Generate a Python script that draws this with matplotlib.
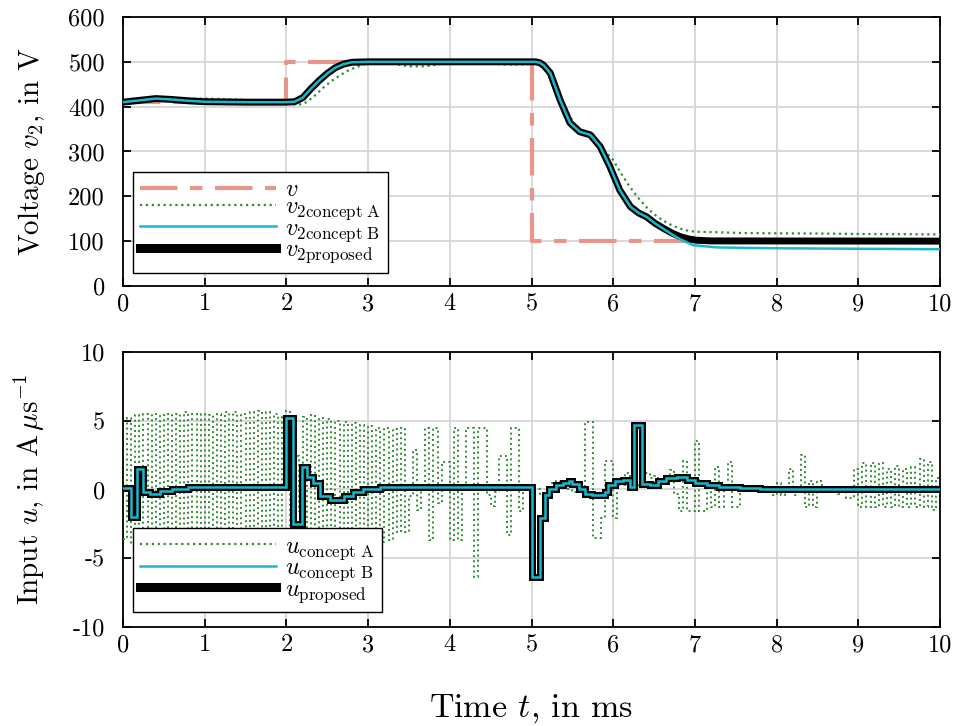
import numpy as np
import matplotlib
matplotlib.use("Agg")
import matplotlib.pyplot as plt
from matplotlib.lines import Line2D

plt.rcParams['font.family'] = ['cmr10', 'DejaVu Serif']
plt.rcParams['mathtext.fontset'] = 'cm'
plt.rcParams['axes.unicode_minus'] = False

# reference voltage (step changes)
t_ref = [0.0, 2.0, 5.0, 10.0]
v_ref = [410, 500, 100, 100]

# output voltage, proposed controller
t_prop = [0.0, 0.2, 0.4, 0.6, 0.8, 1.0, 1.5, 2.0, 2.1, 2.2, 2.3, 2.4, 2.5, 2.6, 2.7, 2.8, 3.0, 3.5,
          5.05, 5.1, 5.15, 5.23, 5.35, 5.47, 5.59, 5.72, 5.84, 5.96, 6.08, 6.21, 6.31, 6.41, 6.51,
          6.61, 6.72, 6.82, 6.92, 7.02, 7.2, 10.0]
v_prop = [410, 414, 418, 416, 413, 411, 410, 410, 411, 420, 440, 458, 474, 487, 495, 499, 500, 500,
          500, 498, 492, 475, 415, 364, 344, 337, 311, 266, 214, 177, 163, 154, 140,
          129, 118, 110, 105, 102, 100.5, 100]

# output voltage, concept B (same as proposed until it settles lower)
t_b = [0.0, 0.2, 0.4, 0.6, 0.8, 1.0, 1.5, 2.0, 2.1, 2.2, 2.3, 2.4, 2.5, 2.6, 2.7, 2.8, 3.0, 3.5,
       5.05, 5.1, 5.15, 5.23, 5.35, 5.47, 5.59, 5.72, 5.84, 5.96, 6.08, 6.21, 6.31, 6.41, 6.51,
       6.61, 6.72, 6.82, 6.98, 7.27, 7.6, 8.08, 9.0, 10.0]
v_b = [410, 414, 418, 416, 413, 411, 410, 410, 411, 420, 440, 458, 474, 487, 495, 499, 500, 500,
       500, 498, 492, 475, 415, 364, 344, 337, 311, 266, 214, 177, 163, 154, 140,
       128, 115, 104, 91, 86, 85, 84, 83, 82]

# output voltage, concept A
t_a = [0.0, 0.2, 0.4, 0.6, 0.8, 1.0, 1.2, 1.4, 1.6, 1.8, 2.0, 2.05, 2.15, 2.25, 2.35, 2.45, 2.55,
       2.65, 2.75, 2.85, 2.95, 3.1, 3.25, 3.4, 3.5, 3.7, 3.85, 4.0, 4.3, 4.5, 4.7, 4.9, 5.0, 5.1,
       5.2, 5.3, 5.4, 5.5, 5.6, 5.7, 5.8, 5.9, 6.0, 6.1, 6.2, 6.3, 6.4, 6.5, 6.6, 6.7, 6.8, 6.9,
       7.0, 7.25, 7.6, 8.0, 8.5, 9.0, 9.5, 10.0]
v_a = [410, 414, 417, 418, 418, 418, 417, 416, 414, 412, 410, 406, 404, 410, 425, 442, 457,
       469, 480, 488, 494, 498, 498, 493, 490, 490, 494, 498, 499, 496, 494, 494, 495, 497,
       482, 447, 405, 368, 344, 337, 322, 300, 281, 250, 222, 198, 177, 160, 147, 137, 129, 124,
       121, 120, 118, 117.5, 117, 116, 115.5, 115]

# input, concept A (sampled every 0.05 ms)
dt_a = 0.05
u_a = [-3.6, 5.2, -4.0, 5.4, -4.2, 5.5, -4.3, 5.5, -4.2, 5.4,
       -4.3, 5.5, -4.3, 5.5, -4.4, 5.6, -4.3, 5.5, -4.3, 5.5,
       -4.3, 5.4, -4.4, 5.5, -4.4, 5.6, -4.3, 5.6, -4.4, 5.5,
       -4.4, 5.6, -4.5, 5.7, -4.4, 5.6, -4.3, 5.5, -4.2, 5.3,
       5.7, -4.5, 2.4, -1.6, 5.3, -4.3, 5.4, -4.2, 5.2, -4.2,
       5.1, -4.0, 5.0, -4.0, 4.9, -4.0, 4.8, -3.9, 4.7, -3.9,
       4.6, -3.8, 4.5, -3.8, 4.5, -3.7, 4.4, -3.1, 4.5, -3.1,
       -0.5, 2.9, -1.5, 0.3, 4.5, -3.7, 4.5, -1.0, 2.0, 2.0,
       -3.7, 4.5, -3.7, 0.3, 4.5, 4.5, -6.4, 4.5, 4.5, -0.4,
       -1.2, -0.2, 2.4, 2.4, -3.3, 4.5, 4.5, -1.6, 0.0, 0.0,
       0.0, 0.0, -0.3, -0.4, 0.2, 0.5, 0.6, 0.5, 0.3, 0.0,
       -0.2, 0.0, 0.0, 4.9, 4.9, -3.5, -3.5, -2.1, 2.1, 2.1,
       -2.1, 0.3, 0.3, 1.2, 0.2, 0.2, 0.3, 1.0, 1.2, 0.8,
       1.0, 0.6, 0.5, 0.6, 1.4, -0.3, -1.6, 2.1, -1.6, -1.6,
       3.5, -1.6, -1.6, 0.2, -1.3, 1.6, -1.3, 0.2, 2.0, -1.3,
       -1.3, 0.0, 0.0, 0.0, 0.0, 0.1, 0.0, 0.0, 0.0, -0.4,
       0.5, -0.4, 0.0, 1.5, -0.4, 0.0, 2.5, -1.3, 0.6, -1.3,
       0.6, 0.0, 0.0, 0.0, 0.0, -0.3, 0.0, -0.6, -0.6, 1.5,
       -1.3, 1.9, -1.3, 1.9, -1.3, 1.9, -1.3, 1.5, -1.3, 1.7,
       -1.3, 1.5, -1.3, 1.6, -1.3, 2.2, -1.3, 2.0, -1.5, 0.8]

# input, proposed controller (piecewise constant)
t_u = [0.00, 0.10, 0.17, 0.25, 0.33, 0.45, 0.60, 0.80, 2.00, 2.08, 2.19, 2.25, 2.33, 2.41, 2.53,
       2.70, 2.82, 2.94, 3.15, 5.00, 5.10, 5.16, 5.22, 5.30, 5.38, 5.46, 5.50, 5.58, 5.66, 5.74,
       5.90, 5.94, 6.02, 6.12, 6.20, 6.25, 6.35, 6.45, 6.55, 6.65, 6.78, 6.90, 7.00, 7.15, 7.30,
       7.55, 7.80, 10.0]
u_prop = [0.1, -2.0, 1.5, -0.2, -0.3, -0.1, 0.0, 0.2, 5.2, -2.5, 1.6, 0.9, 0.5, -0.5, -0.8,
          -0.5, -0.2, 0.0, 0.2, -6.4, -2.1, -0.4, 0.0, 0.3, 0.5, 0.6, 0.4, 0.0, -0.3, -0.4,
          -0.2, 0.3, 0.6, 0.7, 0.2, 4.7, 0.4, 0.3, 0.6, 0.8, 0.9, 0.7, 0.5, 0.3, 0.2,
          0.1, 0.0, 0.0]
# concept B input lies on top of the proposed one
u_b = list(u_prop)

salmon = (232/255, 150/255, 140/255)
green = (50/255, 140/255, 50/255)
cyan = (25/255, 185/255, 205/255)

fig = plt.figure(figsize=(9.55, 7.26), dpi=100)
ax1 = fig.add_axes([0.1288, 0.6061, 0.8555, 0.3705])
ax2 = fig.add_axes([0.1288, 0.1364, 0.8555, 0.3788])

# voltage
l_ref, = ax1.plot(t_ref, v_ref, drawstyle='steps-post', color=salmon, lw=3, dashes=(9, 3, 3, 3), zorder=2)
l_a, = ax1.plot(t_a, v_a, color=green, lw=1.6, ls=':', zorder=3)
l_prop, = ax1.plot(t_prop, v_prop, color='k', lw=5, zorder=4)
l_b, = ax1.plot(t_b, v_b, color=cyan, lw=1.8, zorder=5)

# input
t_a_steps = np.arange(len(u_a) + 1) * dt_a
ax2.stairs(u_a, t_a_steps, color=green, lw=1.4, ls=':', baseline=None, zorder=3)
ax2.plot(t_u, u_prop, drawstyle='steps-post', color='k', lw=5, solid_joinstyle='miter', zorder=4)
ax2.plot(t_u, u_b, drawstyle='steps-post', color=cyan, lw=1.8, solid_joinstyle='miter', zorder=5)

for ax in (ax1, ax2):
    ax.set_xlim(0, 10)
    ax.set_xticks(range(0, 11))
    ax.grid(True, color='#d6d6d6', lw=1.3)
    ax.set_axisbelow(True)
    ax.tick_params(direction='in', length=6, width=1.3, top=True, right=True, labelsize=17.5)
    ax.tick_params(axis='y', pad=13)
    ax.tick_params(axis='x', pad=5)
    for s in ax.spines.values():
        s.set_linewidth(1.3)

ax1.set_ylim(0, 600)
ax1.set_yticks(range(0, 601, 100))
ax2.set_ylim(-10, 10)
ax2.set_yticks([-10, -5, 0, 5, 10])

ax1.set_ylabel('Voltage $v_2$, in V', fontsize=21)
ax2.set_ylabel(r'Input $u$, in A$\,\mu$s$^{-1}$', fontsize=21)
ax2.set_xlabel('Time $t$, in ms', fontsize=24.5, labelpad=26)
ax1.yaxis.set_label_coords(-0.093, 0.5)
ax2.yaxis.set_label_coords(-0.093, 0.5)

leg_kw = dict(loc='lower left', borderaxespad=0, fontsize=17.5, handlelength=5.6,
              labelspacing=-0.2, handletextpad=0.35, borderpad=0.3, fancybox=False,
              edgecolor='k', framealpha=1)

h1 = [l_ref,
      Line2D([], [], color=green, lw=1.6, ls=':'),
      Line2D([], [], color=cyan, lw=1.8),
      Line2D([], [], color='k', lw=6.5)]
lab1 = ['$v$', r'$v_{2\mathrm{concept\ A}}$', r'$v_{2\mathrm{concept\ B}}$', r'$v_{2\mathrm{proposed}}$']
ax1.legend(h1, lab1, bbox_to_anchor=(0.012, 0.05), **leg_kw).set_zorder(10)

h2 = [Line2D([], [], color=green, lw=1.6, ls=':'),
      Line2D([], [], color=cyan, lw=1.8),
      Line2D([], [], color='k', lw=6.5)]
lab2 = [r'$u_{\mathrm{concept\ A}}$', r'$u_{\mathrm{concept\ B}}$', r'$u_{\mathrm{proposed}}$']
ax2.legend(h2, lab2, bbox_to_anchor=(0.012, 0.055), **leg_kw).set_zorder(10)

fig.savefig('out.png', dpi=100)
